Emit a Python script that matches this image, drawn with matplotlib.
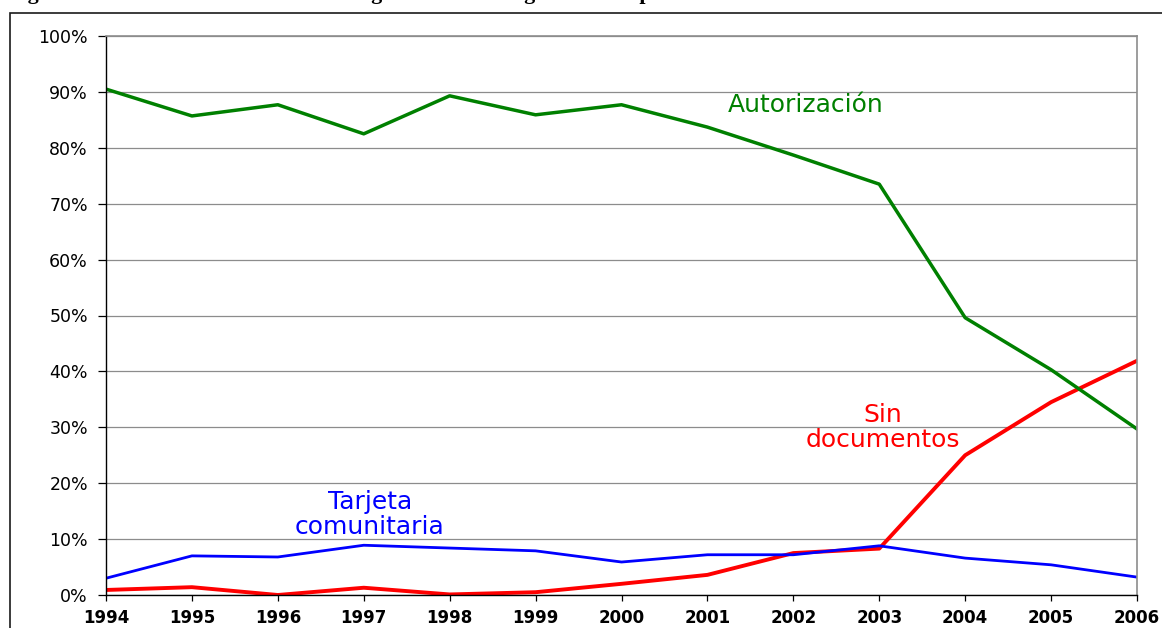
import matplotlib
matplotlib.use("Agg")
import matplotlib.pyplot as plt
from matplotlib.patches import Rectangle

# data (percent)
years = [1994, 1995, 1996, 1997, 1998, 1999, 2000, 2001, 2002, 2003, 2004, 2005, 2006]
autorizacion = [90.5, 85.7, 87.7, 82.5, 89.3, 85.9, 87.7, 83.7, 78.7, 73.5, 49.6, 40.3, 29.7]
sin_documentos = [0.9, 1.4, 0.0, 1.3, 0.1, 0.5, 2.0, 3.6, 7.5, 8.3, 25.0, 34.5, 41.9]
tarjeta = [3.0, 7.0, 6.8, 8.9, 8.4, 7.9, 5.9, 7.2, 7.2, 8.8, 6.6, 5.4, 3.2]

y_ticks = [0, 10, 20, 30, 40, 50, 60, 70, 80, 90, 100]
y_tick_labels = ["0%", "10%", "20%", "30%", "40%", "50%", "60%", "70%", "80%", "90%", "100%"]
x_tick_labels = [str(y) for y in years]

title = "Figura 3. Situación documental a la llegada de los inmigrantes a España"

plt.rcParams['font.family'] = ['DejaVu Sans']

fig = plt.figure(figsize=(11.62, 6.28), dpi=100)
ax = fig.add_axes([106 / 1162, 33 / 628, 1031 / 1162, 559 / 628])

ax.grid(axis='y', color='#8c8c8c', linewidth=0.9)
ax.set_axisbelow(True)

ax.plot(years, sin_documentos, color='#ff0000', linewidth=2.8, solid_joinstyle='round')
ax.plot(years, tarjeta, color='#0000ff', linewidth=2.0, solid_joinstyle='round')
ax.plot(years, autorizacion, color='#008000', linewidth=2.5, solid_joinstyle='round')

ax.set_xlim(1994, 2006)
ax.set_ylim(0, 100)
ax.set_yticks(y_ticks)
ax.set_yticklabels(y_tick_labels, fontsize=12.5)
ax.set_xticks(years)
ax.set_xticklabels(x_tick_labels, fontsize=12, fontweight='bold')
ax.tick_params(axis='y', direction='out', length=6, width=0.9, pad=7)
ax.tick_params(axis='x', direction='out', length=4, width=0.9, pad=6)

for side in ['top', 'right']:
    ax.spines[side].set_color('#8c8c8c')
    ax.spines[side].set_linewidth(1.2)
for side in ['left', 'bottom']:
    ax.spines[side].set_color('black')
    ax.spines[side].set_linewidth(1.0)

# series labels
ax.text(2002.14, 86.4, "Autorización", color='#008000', fontsize=18,
        ha='center', va='baseline')
ax.text(2003.04, 26.5, "Sin\ndocumentos", color='#ff0000', fontsize=18,
        ha='center', va='baseline', multialignment='center', linespacing=1.04)
ax.text(1997.07, 10.9, "Tarjeta\ncomunitaria", color='#0000ff', fontsize=18,
        ha='center', va='baseline', multialignment='center', linespacing=1.06)

# outer chart border (cropped by the image edges)
border = Rectangle((10 / 1162, -0.2), 1.2, 0.2 + 1 - 13 / 628, transform=fig.transFigure,
                   fill=False, edgecolor='#1a1a1a', linewidth=1.2, clip_on=False)
fig.add_artist(border)

# caption cut off at the top of the picture
fig.text(8 / 1162, 1 + 1 / 628, title, fontsize=15.8, fontweight='bold',
         family='Liberation Serif', ha='left', va='baseline')

fig.savefig("out.png", dpi=100)
